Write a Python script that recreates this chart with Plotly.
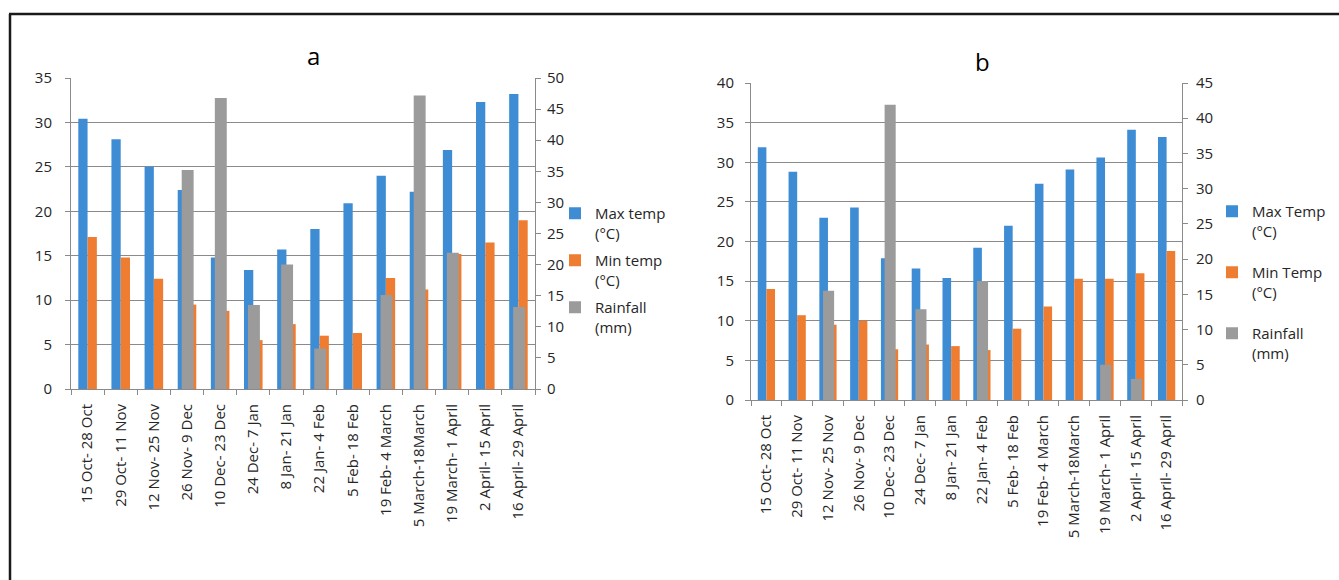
import plotly.graph_objects as go

categories = ["15 Oct- 28 Oct", "29 Oct- 11 Nov", "12 Nov- 25 Nov", "26 Nov- 9 Dec",
              "10 Dec- 23 Dec", "24 Dec- 7 Jan", "8 Jan- 21 Jan", "22 Jan- 4 Feb",
              "5 Feb- 18 Feb", "19 Feb- 4 March", "5 March-18March", "19 March- 1 April",
              "2 April- 15 April", "16 April- 29 April"]

# Panel a
a_max = [30.4, 28.1, 25.0, 22.4, 14.8, 13.4, 15.7, 18.0, 20.9, 24.0, 22.2, 26.9, 32.3, 33.2]
a_min = [17.1, 14.8, 12.4, 9.5, 8.8, 5.5, 7.3, 6.0, 6.3, 12.5, 11.2, 15.2, 16.5, 19.0]
a_rain = [0, 0, 0, 35.2, 46.8, 13.5, 20.0, 6.5, 0, 15.1, 47.2, 21.9, 0, 13.2]

# Panel b
b_max = [31.9, 28.8, 23.0, 24.3, 17.9, 16.6, 15.4, 19.2, 22.0, 27.3, 29.1, 30.6, 34.1, 33.2]
b_min = [14.0, 10.7, 9.5, 10.0, 6.4, 7.0, 6.8, 6.3, 9.0, 11.8, 15.3, 15.3, 16.0, 18.8]
b_rain = [0, 0, 15.5, 0, 41.9, 12.9, 0, 16.9, 0, 0, 0, 5.0, 3.0, 0]

W, H = 1339, 580
def px(x):
    return x / W
def py(y):
    return 1 - y / H

BLUE = "#3e8dd4"
ORANGE = "#ee7d31"
GRAY = "#9b9b9b"
AXC = "#8a8a8a"
TXT = "#262626"
FONT = "Open Sans"

fig = go.Figure()

def add_panel(xa, ya, ya2, mx, mn, rn, names, legend):
    for i, (vals, col, name, yref, off, wd) in enumerate([
        (mx, BLUE, names[0], ya, -0.28, 0.28),
        (mn, ORANGE, names[1], ya, 0.0, 0.28),
        (rn, GRAY, names[2], ya2, -0.16, 0.36),
    ]):
        fig.add_trace(go.Bar(
            x=categories, y=vals, name=name, marker_color=col,
            marker_line_width=0, xaxis=xa, yaxis=yref,
            offset=off, width=wd, legend=legend,
            legendgroup=legend + str(i),
            hovertemplate="%{x}: %{y}<extra>" + name.replace("<br>", " ") + "</extra>",
        ))

add_panel("x", "y", "y2", a_max, a_min, a_rain,
          ["Max temp<br>(°C)", "Min temp<br>(°C)", "Rainfall<br>(mm)"], "legend")
add_panel("x2", "y3", "y4", b_max, b_min, b_rain,
          ["Max Temp<br>(°C)", "Min Temp<br>(°C)", "Rainfall<br>(mm)"], "legend2")

xcommon = dict(type="category", tickangle=-90, ticks="outside", tickson="boundaries",
               ticklen=5, tickcolor=AXC, showline=True, linecolor=AXC, linewidth=1,
               showgrid=False, tickfont=dict(family=FONT, size=15, color=TXT),
               range=[-0.5, 13.5], fixedrange=True, automargin=False, ticklabelstandoff=8)
ycommon = dict(ticks="outside", ticklen=5, tickcolor=AXC, showline=True, linecolor=AXC,
               linewidth=1, tickfont=dict(family=FONT, size=15, color=TXT), zeroline=False,
               fixedrange=True, automargin=False)

fig.update_layout(
    width=W, height=H,
    margin=dict(l=0, r=0, t=0, b=0, autoexpand=False),
    paper_bgcolor="white", plot_bgcolor="white",
    barmode="overlay",
    showlegend=True,
    xaxis=dict(domain=[px(71), px(535)], anchor="y", **xcommon),
    yaxis=dict(domain=[py(389), py(78)], anchor="x", range=[0, 35], dtick=5,
               showgrid=True, gridcolor=AXC, gridwidth=1, ticklabelstandoff=10, **ycommon),
    yaxis2=dict(overlaying="y", side="right", anchor="x", range=[0, 50], dtick=5,
                showgrid=False, ticklabelstandoff=3, **ycommon),
    xaxis2=dict(domain=[px(751), px(1182)], anchor="y3", **xcommon),
    yaxis3=dict(domain=[py(400), py(83)], anchor="x2", range=[0, 40], dtick=5,
                showgrid=True, gridcolor=AXC, gridwidth=1, ticklabelstandoff=8, **ycommon),
    yaxis4=dict(overlaying="y3", side="right", anchor="x2", range=[0, 45], dtick=5,
                showgrid=False, ticklabelstandoff=5, **ycommon),
    legend=dict(x=px(555), y=py(197), xanchor="left", yanchor="top", valign="top",
                font=dict(family=FONT, size=15, color=TXT), tracegroupgap=5,
                bgcolor="rgba(0,0,0,0)", itemwidth=30),
    legend2=dict(x=px(1212), y=py(195), xanchor="left", yanchor="top", valign="top",
                 font=dict(family=FONT, size=15, color=TXT), tracegroupgap=19,
                 bgcolor="rgba(0,0,0,0)", itemwidth=30),
    annotations=[
        dict(text="a", x=px(313), y=py(55), xref="paper", yref="paper", showarrow=False,
             xanchor="center", yanchor="middle",
             font=dict(family=FONT, size=24, color="black")),
        dict(text="b", x=px(982), y=py(62), xref="paper", yref="paper", showarrow=False,
             xanchor="center", yanchor="middle",
             font=dict(family=FONT, size=24, color="black")),
    ],
    shapes=[
        dict(type="line", xref="paper", yref="paper", x0=px(10), x1=px(10), y0=0, y1=py(14),
             line=dict(color="#1a1a1a", width=2.5)),
        dict(type="line", xref="paper", yref="paper", x0=px(9), x1=1, y0=py(14), y1=py(14),
             line=dict(color="#1a1a1a", width=2.5)),
    ],
)

fig.write_html("out.html", config={"displayModeBar": False},
               post_script="document.body.style.margin='0';document.body.style.overflow='hidden';")
